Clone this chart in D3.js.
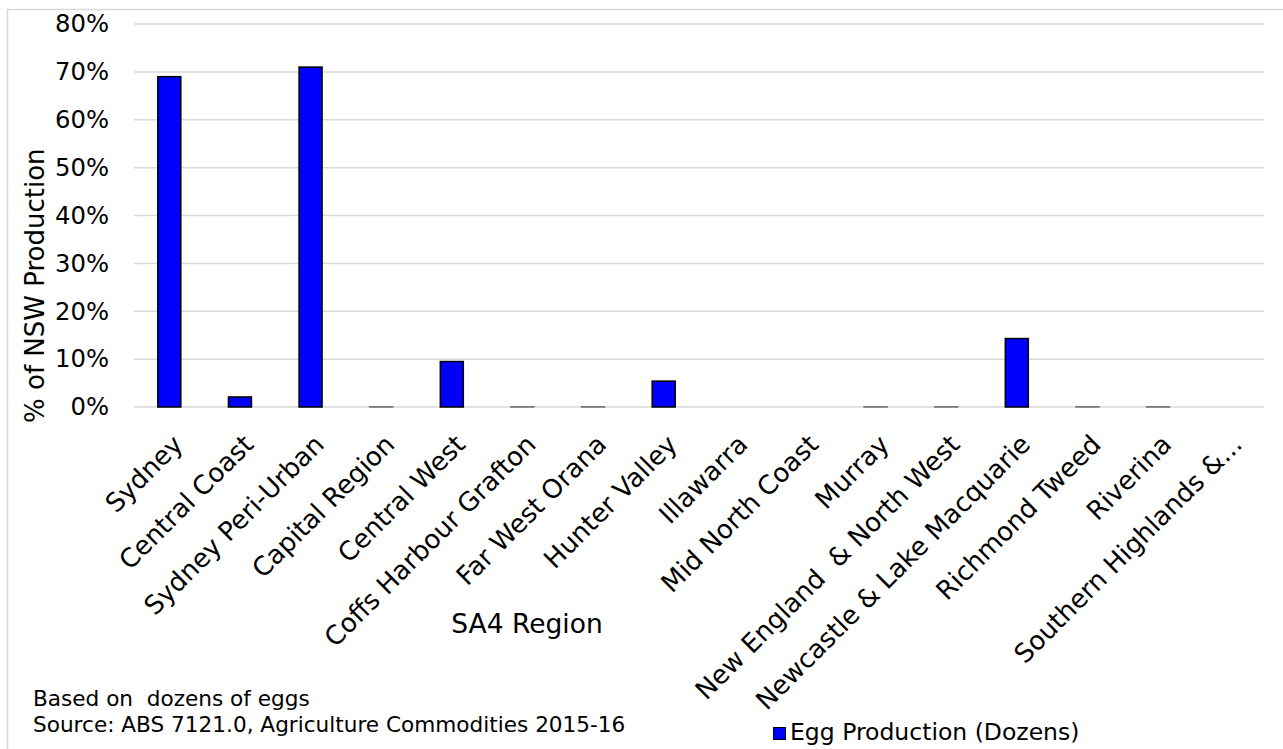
<!DOCTYPE html>
<html>
<head>
<meta charset="utf-8">
<script src="https://cdn.jsdelivr.net/npm/d3@7"></script>
<style>
  html, body { margin: 0; padding: 0; background: #fff; }
  svg { display: block; font-family: "DejaVu Sans", Verdana, sans-serif; }
  text { white-space: pre; }
</style>
</head>
<body>
<svg id="chart" width="1283" height="749"></svg>
<script>
const categories = ["Sydney", "Central Coast", "Sydney Peri-Urban", "Capital Region", "Central West",
  "Coffs Harbour Grafton", "Far West Orana", "Hunter Valley", "Illawarra", "Mid North Coast",
  "Murray", "New England  & North West", "Newcastle & Lake Macquarie", "Richmond Tweed",
  "Riverina", "Southern Highlands &..."];
const eggShare = [0.69, 0.021, 0.71, 0.0005, 0.095, 0.0005, 0.0005, 0.054, null, null,
  0.0005, 0.0005, 0.143, 0.0005, 0.0005, null];
const yTicks = [0, 0.1, 0.2, 0.3, 0.4, 0.5, 0.6, 0.7, 0.8];
const seriesName = "Egg Production (Dozens)";
const yTitle = "% of NSW Production";
const xTitle = "SA4 Region";
const notes = ["Based on  dozens of eggs", "Source: ABS 7121.0, Agriculture Commodities 2015-16"];

(function () {
const svg = d3.select("#chart");
const pLeft = 134, pRight = 1264, pTop = 24, pBottom = 407;

// outer chart border
svg.append("rect").attr("x", 7.5).attr("y", 9.5).attr("width", 1290).attr("height", 760)
  .attr("fill", "none").attr("stroke", "#d9d9d9").attr("stroke-width", 1.5);

const p = 1 - 23 / ((pRight - pLeft) / categories.length);
const x = d3.scaleBand().domain(categories).range([pLeft, pRight]).paddingInner(p).paddingOuter(p / 2);
const y = d3.scaleLinear().domain([0, 0.8]).range([pBottom, pTop]);

// gridlines
svg.append("g").selectAll("line").data(yTicks).join("line")
  .attr("x1", pLeft).attr("x2", pRight)
  .attr("y1", d => y(d)).attr("y2", d => y(d))
  .attr("stroke", "#d9d9d9").attr("stroke-width", 1.5);

// y axis labels
const yAxis = d3.axisLeft(y).tickValues(yTicks).tickFormat(d3.format(".0%")).tickSize(0).tickPadding(0);
const gy = svg.append("g").attr("transform", `translate(${109},0)`).call(yAxis);
gy.select(".domain").remove();
gy.selectAll("text").attr("font-size", 24.3).attr("fill", "#000")
  .attr("font-family", "DejaVu Sans, Verdana, sans-serif");

// bars
const barData = categories.map((c, i) => ({c, v: eggShare[i]})).filter(d => d.v !== null);
svg.append("g").selectAll("rect").data(barData).join("rect")
  .attr("x", d => x(d.c)).attr("width", x.bandwidth())
  .attr("y", d => y(d.v)).attr("height", d => y(0) - y(d.v))
  .attr("fill", "#0000ff").attr("stroke", d => d.v < 0.005 ? "#777" : "#000").attr("stroke-width", 1.5);

// x axis labels
const xAxis = d3.axisBottom(x).tickSize(0).tickPadding(0);
const gx = svg.append("g").attr("transform", `translate(0,${pBottom})`).call(xAxis);
gx.select(".domain").remove();
gx.selectAll("text")
  .attr("font-size", 26).attr("fill", "#000")
  .attr("font-family", "DejaVu Sans, Verdana, sans-serif")
  .attr("text-anchor", "end")
  .attr("y", 0).attr("dy", null)
  .attr("transform", "translate(15,39) rotate(-45)");

// y title
svg.append("text").attr("transform", "translate(43.5,423) rotate(-90)")
  .attr("text-anchor", "start").attr("font-size", 26).attr("fill", "#000").text(yTitle);

// x title
svg.append("text").attr("x", 527).attr("y", 633).attr("text-anchor", "middle")
  .attr("font-size", 26.5).attr("fill", "#000").text(xTitle);

// notes
svg.append("g").selectAll("text").data(notes).join("text")
  .attr("x", 33).attr("y", (d, i) => 706 + i * 26)
  .attr("font-size", 21.6).attr("fill", "#000").text(d => d);

// legend
svg.append("rect").attr("x", 773.5).attr("y", 727.5).attr("width", 12).attr("height", 12)
  .attr("fill", "#0000ff").attr("stroke", "#000").attr("stroke-width", 1);
svg.append("text").attr("x", 790).attr("y", 740).attr("font-size", 23.5).attr("fill", "#000").text(seriesName);
})();
</script>
</body>
</html>
